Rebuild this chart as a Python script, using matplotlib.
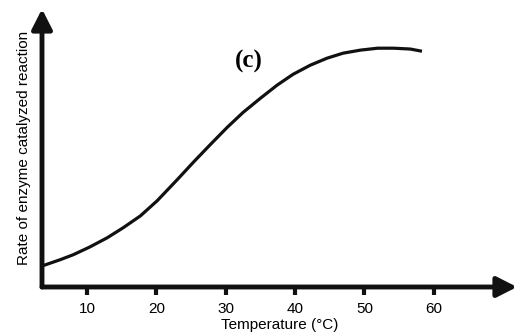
import matplotlib

matplotlib.use("Agg")
import matplotlib.pyplot as plt

# values (arbitrary rate units, 0-100)
temperature = [3.5, 3.9, 6.1, 8.0, 10.4, 12.9, 15.2, 17.7, 20.1, 23.0, 25.3, 27.8,
               30.2, 32.5, 35.0, 37.4, 39.7, 42.2, 44.6, 46.9, 49.4, 51.9, 54.2, 56.6, 58.3]
rate = [7.6, 7.9, 9.8, 11.6, 14.4, 17.7, 21.3, 25.6, 31.0, 38.6, 44.8, 51.3,
        57.4, 62.8, 67.9, 72.6, 76.5, 79.8, 82.3, 84.1, 85.2, 85.9, 85.9, 85.6, 84.8]
x_ticks = [10, 20, 30, 40, 50, 60]

plt.rcParams["font.family"] = ["Liberation Sans", "DejaVu Sans"]

fig = plt.figure(figsize=(5.17, 3.32), dpi=100)
ax = fig.add_axes([42 / 517, 45 / 332, 475 / 517, 278 / 332])

ax.plot(temperature, rate, color="#111111", linewidth=2.3, solid_capstyle="butt",
        solid_joinstyle="round")

ax.set_xlim(3.5, 72.0)
ax.set_ylim(0, 100)
for side in ("top", "right", "left", "bottom"):
    ax.spines[side].set_visible(False)

# thick axes with arrow heads
arrow = dict(arrowstyle="-|>,head_length=0.55,head_width=0.28", color="#111111", lw=3.5,
             mutation_scale=22, shrinkA=0, shrinkB=0)
ax.annotate("", xy=(1.0, 0), xytext=(0, 0), xycoords="axes fraction", arrowprops=arrow)
ax.annotate("", xy=(0, 1.0), xytext=(0, 0), xycoords="axes fraction", arrowprops=arrow)

ax.set_xticks(x_ticks)
ax.set_xticklabels([str(t) for t in x_ticks])
ax.tick_params(axis="x", direction="out", length=6, width=3, color="#111111", pad=5, labelsize=11)
ax.set_yticks([])

ax.set_xlabel("Temperature (°C)", fontsize=11, labelpad=1)
ax.set_ylabel("Rate of enzyme catalyzed reaction", fontsize=11, labelpad=8)

ax.text(0.436, 0.813, "(c)", transform=ax.transAxes, ha="center", va="center",
        fontsize=18, fontweight="bold", family=["Liberation Serif", "DejaVu Serif"])

fig.savefig("out.png", dpi=100)
